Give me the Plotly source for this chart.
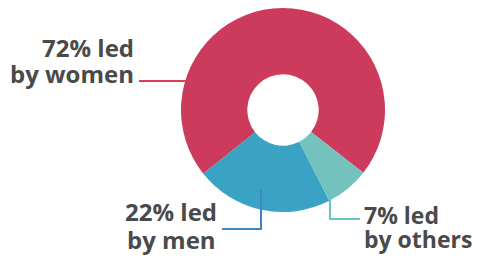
import plotly.graph_objects as go

categories = ["by women", "by men", "by others"]
shares = [72, 22, 7]
colors = ["#cc3a5c", "#3aa2c3", "#74c2be"]
line_colors = ["#de3f55", "#3f86c4", "#68c6c2"]

# page body has an 8px margin; figure fills the rest of the 483x258 window
OFF = 8
W, H = 483 - 2 * OFF, 258 - OFF
CX, CY, R = 283, 110, 102  # donut centre/radius in window pixels

def fx(px):  # window px -> paper fraction
    return min(1, max(0, (px - OFF) / W))

def fy(py):
    return min(1, max(0, 1 - (py - OFF) / H))

fig = go.Figure()
fig.add_trace(go.Pie(
    labels=categories, values=shares, sort=False,
    direction="counterclockwise", rotation=-128.6,
    hole=0.35, textinfo="none", hoverinfo="label+percent",
    marker=dict(colors=colors, line=dict(width=0)),
    domain=dict(x=[fx(CX - R), fx(CX + R)], y=[fy(CY + R), fy(CY - R)]),
    showlegend=False,
))

def label(x, y, txt, anchor, size=24):
    fig.add_annotation(x=x, y=y, xref="x", yref="y", text="<b>%s</b>" % txt,
                       showarrow=False, xanchor=anchor, yanchor="bottom",
                       font=dict(family="Open Sans", size=size, color="#4a4a4a"))

label(136, 66, f"{shares[0]}% led", "right")
label(136, 92, categories[0], "right")
label(171, 230, f"{shares[1]}% led", "center")
label(171, 258, categories[1], "center")
label(362, 233, f"{shares[2]}% led", "left", 23)
label(362, 257, categories[2], "left", 23)

shapes = [
    dict(type="line", x0=139, y0=81, x1=186, y1=81, line=dict(color=line_colors[0], width=2)),
    dict(type="path", path="M 222 229 L 261 229 L 261 190", line=dict(color=line_colors[1], width=2)),
    dict(type="path", path="M 330 178 L 330 219 L 360 219", line=dict(color=line_colors[2], width=2)),
]
for s in shapes:
    s.update(xref="x", yref="y")
    fig.add_shape(**s)

fig.update_layout(
    width=W, height=H, margin=dict(l=0, r=0, t=0, b=0),
    paper_bgcolor="white", plot_bgcolor="rgba(0,0,0,0)",
    xaxis=dict(range=[OFF, OFF + W], visible=False, fixedrange=True),
    yaxis=dict(range=[OFF + H, OFF], visible=False, fixedrange=True),
)
fig.write_html("out.html")
